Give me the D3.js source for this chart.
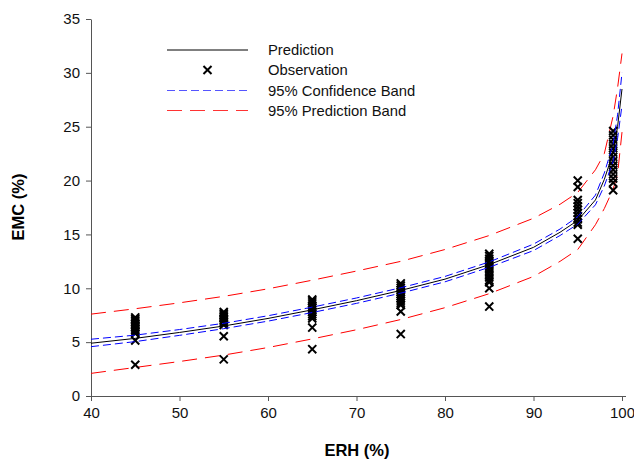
<!DOCTYPE html>
<html><head><meta charset="utf-8">
<script src="https://cdn.jsdelivr.net/npm/d3@7"></script>
<style>body{margin:0;background:#fff}svg{display:block}text{font-family:"Liberation Sans",Arial,Helvetica,sans-serif}</style>
</head><body><svg id="c" width="634" height="460"></svg>
<script>
const erh        = [40, 45, 50, 55, 60, 65, 70, 75, 80, 85, 90, 93, 95, 97, 98, 99, 99.5, 100];
const prediction = [4.9, 5.35, 5.9, 6.5, 7.2, 8.0, 8.85, 9.8, 10.85, 12.2, 13.8, 15.2, 16.3, 18.2, 20.1, 22.6, 25.0, 28.5];
const confUpper  = [5.27, 5.65, 6.17, 6.75, 7.45, 8.25, 9.1, 10.05, 11.1, 12.45, 14.1, 15.5, 16.65, 18.65, 20.7, 23.4, 26.1, 30.0];
const confLower  = [4.58, 5.05, 5.63, 6.25, 6.95, 7.75, 8.6, 9.55, 10.6, 11.95, 13.5, 14.9, 15.95, 17.75, 19.5, 21.8, 23.9, 27.0];
const predUpper  = [7.6, 8.1, 8.65, 9.25, 9.95, 10.75, 11.6, 12.5, 13.6, 14.9, 16.5, 17.8, 18.9, 21.0, 22.5, 26.0, 28.6, 31.8];
const predLower  = [2.1, 2.65, 3.2, 3.8, 4.5, 5.3, 6.15, 7.1, 8.2, 9.5, 11.1, 12.5, 13.6, 15.9, 17.4, 19.2, 20.6, 24.5];

const obsERH = [45, 55, 65, 75, 85, 95, 99];
const obsEMC = [
  [7.3, 7.15, 7.0, 6.85, 6.7, 6.55, 6.4, 6.25, 6.1, 5.95, 5.8, 5.15, 2.9],
  [7.8, 7.65, 7.5, 7.35, 7.2, 7.05, 6.9, 6.75, 6.6, 5.55, 3.4],
  [8.95, 8.8, 8.6, 8.4, 8.2, 8.0, 7.8, 7.6, 7.4, 7.2, 6.35, 4.35],
  [10.45, 10.25, 10.05, 9.85, 9.65, 9.45, 9.25, 9.05, 8.85, 8.65, 8.45, 7.85, 5.75],
  [13.2, 13.0, 12.75, 12.5, 12.25, 12.0, 11.75, 11.5, 11.25, 11.0, 10.75, 10.55, 10.0, 8.3],
  [20.0, 19.4, 18.2, 17.9, 17.6, 17.3, 17.0, 16.7, 16.4, 16.1, 15.9, 14.6],
  [24.6, 24.2, 23.8, 23.4, 23.0, 22.6, 22.2, 21.8, 21.4, 21.0, 20.6, 20.2, 19.8, 19.1]
];

const xTicks = [40, 50, 60, 70, 80, 90, 100];
const yTicks = [0, 5, 10, 15, 20, 25, 30, 35];
const legendLabels = ["Prediction", "Observation", "95% Confidence Band", "95% Prediction Band"];

const svg = d3.select("#c");
const x = d3.scaleLinear().domain([40, 100]).range([91, 622]);
const y = d3.scaleLinear().domain([0, 35]).range([396, 19]);
const axisCol = "#555";

const gx = svg.append("g").attr("transform", "translate(0,396)")
  .call(d3.axisBottom(x).tickValues(xTicks).tickSize(5).tickSizeOuter(0).tickPadding(6));
const gy = svg.append("g").attr("transform", "translate(91,0)")
  .call(d3.axisLeft(y).tickValues(yTicks).tickSize(5).tickSizeOuter(0).tickPadding(6));
[gx, gy].forEach(g => {
  g.select(".domain").attr("stroke", axisCol);
  g.selectAll(".tick line").attr("stroke", axisCol);
  g.selectAll(".tick text").attr("font-size", 15).attr("fill", "#111")
   .attr("font-family", '"Liberation Sans",Arial,sans-serif');
});
gx.select(".domain").attr("d", "M91,0.5H626");

svg.append("text").attr("x", 357).attr("y", 456).attr("text-anchor", "middle")
  .attr("font-size", 16.5).attr("font-weight", "bold").text("ERH (%)");
svg.append("text").attr("transform", "translate(24,207) rotate(-90)").attr("text-anchor", "middle")
  .attr("font-size", 16.5).attr("font-weight", "bold").text("EMC (%)");

const lineOf = arr => d3.line().x((d, i) => x(erh[i])).y(d => y(d))(arr);

const plot = svg.append("g");
plot.append("path").attr("d", lineOf(predUpper)).attr("fill", "none").attr("stroke", "#ff0000").attr("stroke-width", 1).attr("stroke-dasharray", "15,8");
plot.append("path").attr("d", lineOf(predLower)).attr("fill", "none").attr("stroke", "#ff0000").attr("stroke-width", 1).attr("stroke-dasharray", "15,8");

const sym = d3.symbol().type(d3.symbolTimes).size(44);
obsERH.forEach((e, k) => {
  obsEMC[k].forEach(v => {
    plot.append("path").attr("d", sym()).attr("transform", `translate(${x(e)},${y(v)})`)
      .attr("fill", "none").attr("stroke", "#000").attr("stroke-width", 2);
  });
});

plot.append("path").attr("d", lineOf(confUpper)).attr("fill", "none").attr("stroke", "#0000ff").attr("stroke-width", 1).attr("stroke-dasharray", "8,4");
plot.append("path").attr("d", lineOf(confLower)).attr("fill", "none").attr("stroke", "#0000ff").attr("stroke-width", 1).attr("stroke-dasharray", "8,4");
plot.append("path").attr("d", lineOf(prediction)).attr("fill", "none").attr("stroke", "#000").attr("stroke-width", 1);

const lg = svg.append("g");
const rows = [50, 70, 90.5, 110.5];
lg.append("line").attr("x1", 167).attr("x2", 248).attr("y1", rows[0]).attr("y2", rows[0]).attr("stroke", "#000");
lg.append("path").attr("d", sym()).attr("transform", `translate(207.5,${rows[1]})`).attr("fill", "none").attr("stroke", "#000").attr("stroke-width", 2);
lg.append("line").attr("x1", 167).attr("x2", 248).attr("y1", rows[2]).attr("y2", rows[2]).attr("stroke", "#5555ff").attr("stroke-dasharray", "8,4");
lg.append("line").attr("x1", 167).attr("x2", 248).attr("y1", rows[3]).attr("y2", rows[3]).attr("stroke", "#ff3333").attr("stroke-dasharray", "15,8");
legendLabels.forEach((t, i) => {
  lg.append("text").attr("x", 268).attr("y", rows[i] + 5).attr("font-size", 14.8).attr("fill", "#111").text(t);
});
</script></body></html>
